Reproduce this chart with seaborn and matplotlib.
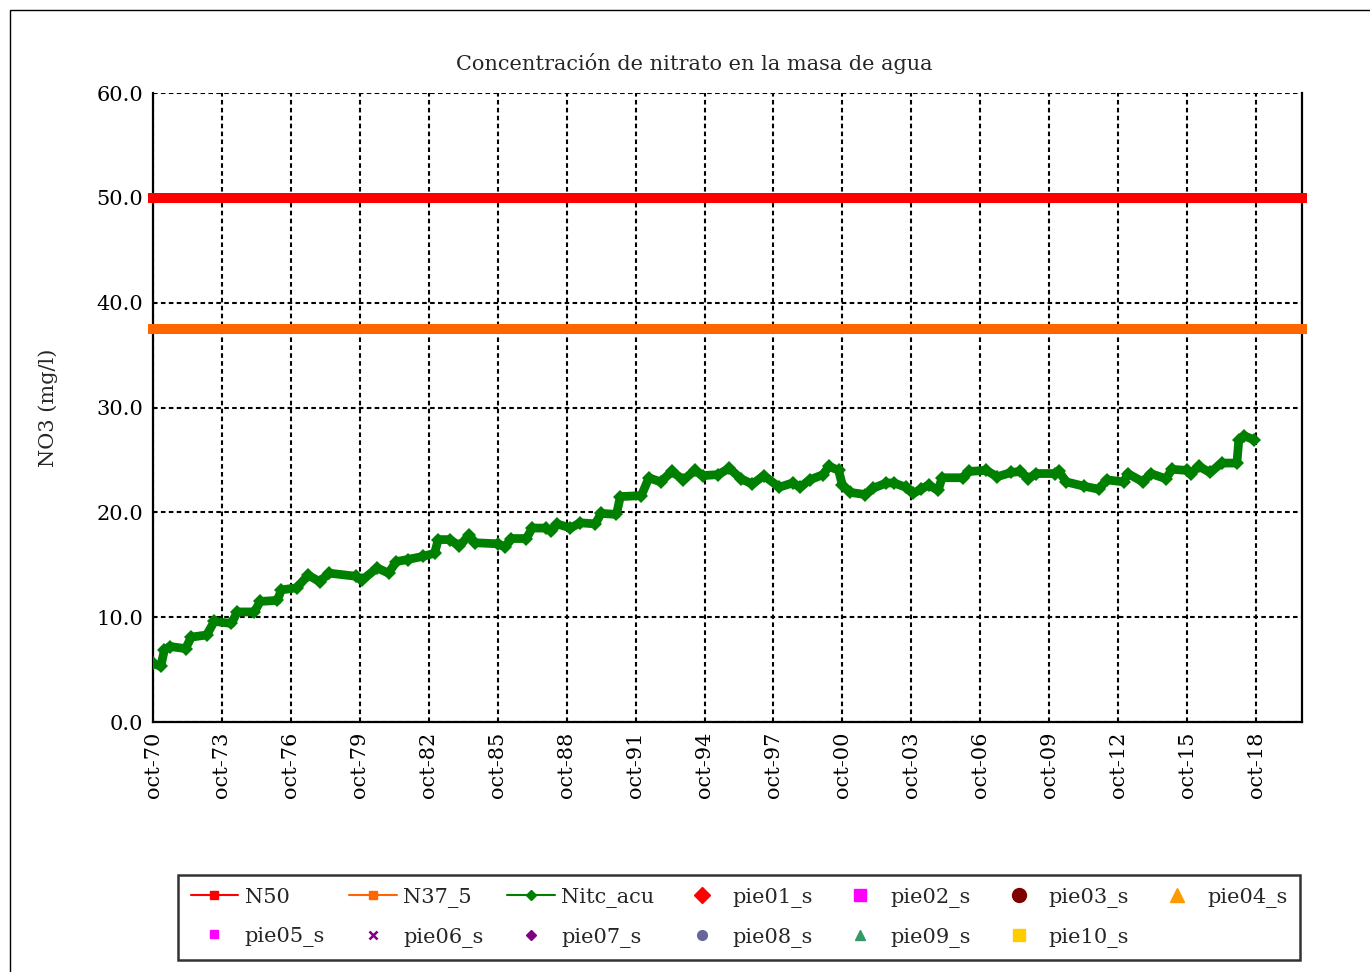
import matplotlib
matplotlib.use("Agg")
import matplotlib.pyplot as plt
from matplotlib.lines import Line2D
from matplotlib.patches import Rectangle
import seaborn as sns
import pandas as pd

# ---------------- data ----------------
nitc_dates = [
    "1970-10", "1971-02", "1971-04", "1971-07", "1972-03", "1972-06", "1973-02", "1973-06",
    "1974-03", "1974-06", "1975-03", "1975-06", "1976-03", "1976-05", "1977-01", "1977-07",
    "1978-01", "1978-06", "1979-08", "1979-11", "1980-07", "1981-01", "1981-05", "1981-11",
    "1982-07", "1983-01", "1983-03", "1983-09", "1984-02", "1984-07", "1984-10", "1985-10",
    "1986-02", "1986-05", "1987-01", "1987-04", "1987-11", "1988-02", "1988-05", "1988-12",
    "1989-05", "1990-01", "1990-04", "1990-12", "1991-02", "1992-01", "1992-05", "1992-11",
    "1993-05", "1993-11", "1994-05", "1994-09", "1995-05", "1995-11", "1996-05", "1996-11",
    "1997-05", "1998-01", "1998-08", "1998-12", "1999-05", "1999-12", "2000-03", "2000-08",
    "2000-10", "2001-02", "2001-10", "2002-02", "2002-09", "2003-01", "2003-07", "2003-11",
    "2004-03", "2004-07", "2004-12", "2005-02", "2006-01", "2006-04", "2007-01", "2007-07",
    "2008-02", "2008-07", "2008-11", "2009-03", "2010-01", "2010-03", "2010-07", "2011-04",
    "2011-12", "2012-04", "2013-01", "2013-03", "2013-11", "2014-03", "2014-11", "2015-02",
    "2015-10", "2015-12", "2016-04", "2016-10", "2017-04", "2017-12", "2018-01", "2018-04",
    "2018-09",
]
nitc_values = [
    5.6, 5.3, 6.9, 7.2, 7.0, 8.1, 8.3, 9.6,
    9.4, 10.5, 10.5, 11.5, 11.6, 12.6, 12.8, 14.0,
    13.4, 14.2, 13.9, 13.5, 14.7, 14.2, 15.3, 15.5,
    15.8, 16.1, 17.4, 17.4, 16.8, 17.8, 17.1, 17.0,
    16.7, 17.5, 17.5, 18.5, 18.5, 18.2, 18.9, 18.5,
    19.0, 18.9, 19.9, 19.8, 21.5, 21.6, 23.3, 22.9,
    23.9, 23.1, 24.0, 23.5, 23.6, 24.2, 23.2, 22.7,
    23.5, 22.4, 22.8, 22.4, 23.1, 23.6, 24.4, 24.0,
    22.6, 21.9, 21.7, 22.3, 22.8, 22.8, 22.4, 21.8,
    22.2, 22.6, 22.1, 23.3, 23.3, 23.9, 24.0, 23.4,
    23.8, 23.9, 23.2, 23.7, 23.7, 23.9, 22.9, 22.5,
    22.2, 23.1, 22.9, 23.7, 22.9, 23.7, 23.2, 24.1,
    24.0, 23.7, 24.4, 23.8, 24.7, 24.7, 26.9, 27.3,
    26.9,
]
limit_dates = ["1970-10", "2020-10"]
n50_values = [50.0, 50.0]
n37_values = [37.5, 37.5]

tick_dates = ["1970-10", "1973-10", "1976-10", "1979-10", "1982-10", "1985-10", "1988-10",
              "1991-10", "1994-10", "1997-10", "2000-10", "2003-10", "2006-10", "2009-10",
              "2012-10", "2015-10", "2018-10"]
tick_labels = ["oct-70", "oct-73", "oct-76", "oct-79", "oct-82", "oct-85", "oct-88",
               "oct-91", "oct-94", "oct-97", "oct-00", "oct-03", "oct-06", "oct-09",
               "oct-12", "oct-15", "oct-18"]
y_ticks = [0, 10, 20, 30, 40, 50, 60]

legend_labels = ["N50", "N37_5", "Nitc_acu", "pie01_s", "pie02_s", "pie03_s", "pie04_s",
                 "pie05_s", "pie06_s", "pie07_s", "pie08_s", "pie09_s", "pie10_s"]

title = "Concentración de nitrato en la masa de agua"
ylabel = "NO3 (mg/l)"

# ---------------- style ----------------
sns.set_style("white")
FONT = ["DejaVu Serif"]
plt.rcParams["font.family"] = FONT
FS = 15

W, H = 1370, 972
fig = plt.figure(figsize=(W / 100, H / 100), dpi=100)
ax = fig.add_axes([153 / W, 1 - 722 / H, (1302 - 153) / W, (722 - 93) / H])

df_n = pd.DataFrame({"date": pd.to_datetime(nitc_dates), "val": nitc_values})
df_l = pd.DataFrame({"date": pd.to_datetime(limit_dates), "n50": n50_values, "n37": n37_values})

sns.lineplot(data=df_l, x="date", y="n50", ax=ax, color="#ff0000", lw=7.2,
             solid_capstyle="projecting", clip_on=False, zorder=5)
sns.lineplot(data=df_l, x="date", y="n37", ax=ax, color="#ff6600", lw=7.2,
             solid_capstyle="projecting", clip_on=False, zorder=5)
sns.lineplot(data=df_n, x="date", y="val", ax=ax, color="#008000", lw=6.3,
             marker="D", markersize=7.5, markeredgewidth=0, zorder=6,
             solid_joinstyle="round", solid_capstyle="round")

ax.set_xlim(pd.Timestamp("1970-10-01"), pd.Timestamp("2020-10-01"))
ax.set_ylim(0, 60)
ax.set_xticks(pd.to_datetime(tick_dates))
ax.set_xticklabels(tick_labels, rotation=90, fontsize=FS)
ax.set_yticks(y_ticks)
ax.set_yticklabels([f"{v:.1f}" for v in y_ticks], fontsize=FS)
ax.set_xlabel("")
ax.set_ylabel(ylabel, fontsize=FS, labelpad=28)

ax.grid(True, color="black", lw=1.5, linestyle=(0, (2.2, 1.6)))
ax.set_axisbelow(True)
for s in ["left", "bottom", "right"]:
    ax.spines[s].set_visible(True)
    ax.spines[s].set_color("black")
    ax.spines[s].set_linewidth(1.6)
ax.spines["top"].set_visible(False)
ax.tick_params(axis="both", direction="inout", length=8, width=1.4, color="black",
               pad=3, labelcolor="black")

fig.text(694 / W, 1 - 63 / H, title, ha="center", va="center", fontsize=FS)

# ---------------- legend ----------------
handle_map = {
    "N50": Line2D([], [], color="#ff0000", lw=1.5, marker="s", ms=6),
    "N37_5": Line2D([], [], color="#ff6600", lw=1.5, marker="s", ms=6),
    "Nitc_acu": Line2D([], [], color="#008000", lw=1.5, marker="D", ms=5),
    "pie01_s": Line2D([], [], color="#ff0000", lw=0, marker="D", ms=8),
    "pie02_s": Line2D([], [], color="#ff00ff", lw=0, marker="s", ms=9),
    "pie03_s": Line2D([], [], color="#800000", lw=0, marker="o", ms=10),
    "pie04_s": Line2D([], [], color="#ff9900", lw=0, marker="^", ms=10),
    "pie05_s": Line2D([], [], color="#ff00ff", lw=0, marker="s", ms=6),
    "pie06_s": Line2D([], [], color="#800080", lw=0, marker="x", ms=6, mew=1.8),
    "pie07_s": Line2D([], [], color="#800080", lw=0, marker="D", ms=5),
    "pie08_s": Line2D([], [], color="#666699", lw=0, marker="o", ms=7),
    "pie09_s": Line2D([], [], color="#339966", lw=0, marker="^", ms=7),
    "pie10_s": Line2D([], [], color="#ffcc00", lw=0, marker="s", ms=9),
}
# matplotlib fills legend columns first; reorder so rows read left to right
row1 = legend_labels[:7]
row2 = legend_labels[7:]
order = []
for i in range(7):
    order.append(row1[i])
    if i < len(row2):
        order.append(row2[i])
leg = fig.legend([handle_map[k] for k in order], order, loc="lower left",
                 bbox_to_anchor=(178 / W, 1 - 960 / H, (1300 - 178) / W, 89 / H),
                 mode="expand", ncol=7, frameon=True, fancybox=False,
                 edgecolor="black", fontsize=FS, handlelength=2.3, handletextpad=0.3,
                 borderaxespad=0, borderpad=0.6, labelspacing=0.95, columnspacing=0.5)
leg.get_frame().set_linewidth(1.8)

# outer chart-area border (left and top visible)
fig.patches.append(Rectangle((10 / W, -0.1), 1.2, 1 - 10 / H + 0.1, transform=fig.transFigure,
                             fill=False, edgecolor="black", lw=1.0))

fig.savefig("out.png", dpi=100, facecolor="white")
